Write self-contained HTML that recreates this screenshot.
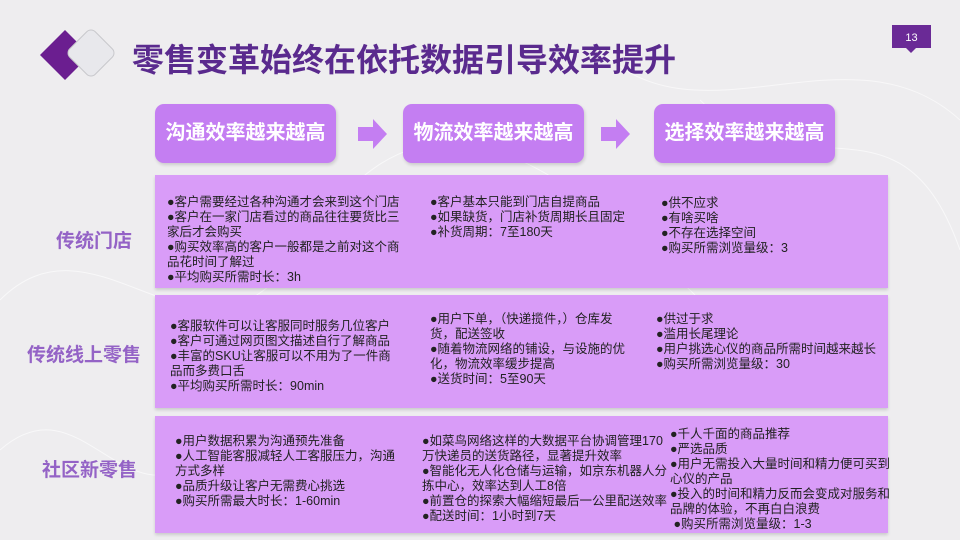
<!DOCTYPE html>
<html><head><meta charset="utf-8"><style>
*{margin:0;padding:0;box-sizing:border-box}
body{width:960px;height:540px;overflow:hidden;background:#eeedef;position:relative;font-family:"Liberation Sans","Noto Sans CJK SC",sans-serif}
.a{position:absolute}
.title{left:132px;top:35px;font-size:32px;font-weight:bold;color:#5a2a8e;letter-spacing:0px;white-space:nowrap}
.hb{height:59px;top:104px;width:181px;background:#c47ef2;border-radius:9px;color:#fff;font-size:20px;font-weight:bold;text-align:center;line-height:59px;box-shadow:1px 2px 3px rgba(0,0,0,.15)}
.row{left:155px;width:733px;background:#d99cf8;box-shadow:0 2px 3px rgba(0,0,0,.15)}
.lab{font-size:19px;font-weight:bold;color:#9463c6;white-space:nowrap}
.t{font-size:12.5px;line-height:15px;color:#222;white-space:nowrap}
</style></head><body>
<svg class="a" style="left:0;top:0" width="960" height="540">
<g fill="none" stroke="#fff" stroke-width="1" opacity=".6">
<path d="M0 300 C100 200 200 400 300 250 S 500 100 700 300"/>
<path d="M600 50 C700 150 850 20 960 120"/>
<path d="M0 450 C80 380 120 520 200 460"/>
<path d="M700 100 C800 200 900 80 960 250"/>
</g>
<polygon points="40,55 65,30 90,55 65,80" fill="#6b1e90"/>
<rect x="73" y="35" width="36" height="36" rx="6" transform="rotate(45 91 53)" fill="#e8e8ec" stroke="#c8c8cc"/>
<rect x="892" y="25" width="39" height="23" fill="#6a2a96"/>
<polygon points="906,48 916,48 911,53" fill="#6a2a96"/>
<text x="911.5" y="41" fill="#fff" font-size="11" text-anchor="middle" font-family="Liberation Sans">13</text>
<polygon points="358,127 373,127 373,119 387,134 373,149 373,141 358,141" fill="#c47ef2"/>
<polygon points="601,127 616,127 616,119 630,134 616,149 616,141 601,141" fill="#c47ef2"/>
</svg>
<div class="a title">零售变革始终在依托数据引导效率提升</div>
<div class="a hb" style="left:155px">沟通效率越来越高</div>
<div class="a hb" style="left:403px">物流效率越来越高</div>
<div class="a hb" style="left:654px">选择效率越来越高</div>

<div class="a row" style="top:175px;height:113px"></div>
<div class="a row" style="top:295px;height:113px"></div>
<div class="a row" style="top:416px;height:117px"></div>

<div class="a lab" style="left:56px;top:226px">传统门店</div>
<div class="a lab" style="left:27px;top:340px">传统线上零售</div>
<div class="a lab" style="left:42px;top:455px">社区新零售</div>

<div class="a t" style="left:167px;top:195px">●客户需要经过各种沟通才会来到这个门店<br>●客户在一家门店看过的商品往往要货比三<br>家后才会购买<br>●购买效率高的客户一般都是之前对这个商<br>品花时间了解过<br>●平均购买所需时长：3h</div>
<div class="a t" style="left:430px;top:195px">●客户基本只能到门店自提商品<br>●如果缺货，门店补货周期长且固定<br>●补货周期：7至180天</div>
<div class="a t" style="left:661px;top:196px">●供不应求<br>●有啥买啥<br>●不存在选择空间<br>●购买所需浏览量级：3</div>

<div class="a t" style="left:170px;top:319px">●客服软件可以让客服同时服务几位客户<br>●客户可通过网页图文描述自行了解商品<br>●丰富的SKU让客服可以不用为了一件商<br>品而多费口舌<br>●平均购买所需时长：90min</div>
<div class="a t" style="left:430px;top:312px">●用户下单，（快递揽件，）仓库发<br>货，配送签收<br>●随着物流网络的铺设，与设施的优<br>化，物流效率缓步提高<br>●送货时间：5至90天</div>
<div class="a t" style="left:656px;top:312px">●供过于求<br>●滥用长尾理论<br>●用户挑选心仪的商品所需时间越来越长<br>●购买所需浏览量级：30</div>

<div class="a t" style="left:175px;top:434px">●用户数据积累为沟通预先准备<br>●人工智能客服减轻人工客服压力，沟通<br>方式多样<br>●品质升级让客户无需费心挑选<br>●购买所需最大时长：1-60min</div>
<div class="a t" style="left:422px;top:434px">●如菜鸟网络这样的大数据平台协调管理170<br>万快递员的送货路径，显著提升效率<br>●智能化无人化仓储与运输，如京东机器人分<br>拣中心，效率达到人工8倍<br>●前置仓的探索大幅缩短最后一公里配送效率<br>●配送时间：1小时到7天</div>
<div class="a t" style="left:670px;top:427px">●千人千面的商品推荐<br>●严选品质<br>●用户无需投入大量时间和精力便可买到<br>心仪的产品<br>●投入的时间和精力反而会变成对服务和<br>品牌的体验，不再白白浪费<br>&nbsp;●购买所需浏览量级：1-3</div>
</body></html>
